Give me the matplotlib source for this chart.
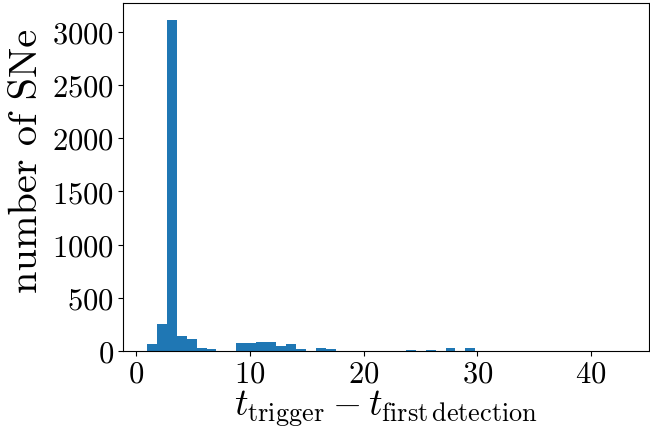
import numpy as np
import matplotlib
matplotlib.use("Agg")
import matplotlib.pyplot as plt

plt.rcParams['font.family'] = 'serif'
plt.rcParams['font.serif'] = ['cmr10']
plt.rcParams['mathtext.fontset'] = 'cm'
plt.rcParams['axes.formatter.use_mathtext'] = True

# histogram bins (first edge, width, number of bins)
bin_start = 0.93
bin_width = 0.876
n_bins = 48
counts = [63, 251, 3116, 138, 110, 25, 16, 4, 4, 72,
          72, 85, 85, 44, 63, 16, 4, 25, 16, 0,
          0, 0, 0, 0, 0, 0, 8, 0, 8, 0,
          25, 0, 25, 0, 0, 0, 0, 0, 0, 0,
          0, 0, 0, 0, 0, 0, 0, 0]

edges = bin_start + bin_width * np.arange(n_bins + 1)
centers = 0.5 * (edges[:-1] + edges[1:])

fig = plt.figure(figsize=(6.5, 4.39), dpi=100)
ax = fig.add_axes([0.189, 0.198, 0.809, 0.793])
ax.hist(centers, bins=edges, weights=counts, color='#1f77b4')
ax.set_xticks([0, 10, 20, 30, 40])
ax.set_yticks([0, 500, 1000, 1500, 2000, 2500, 3000])
ax.tick_params(labelsize=22, pad=3)
ax.set_xlabel(r'$t_{\rm trigger} - t_{\rm first\,detection}$', fontsize=27, labelpad=0)
ax.set_ylabel('number of SNe', fontsize=29, labelpad=5)
ax.yaxis.label.set_y(0.55)
fig.savefig('out.png', dpi=100)
